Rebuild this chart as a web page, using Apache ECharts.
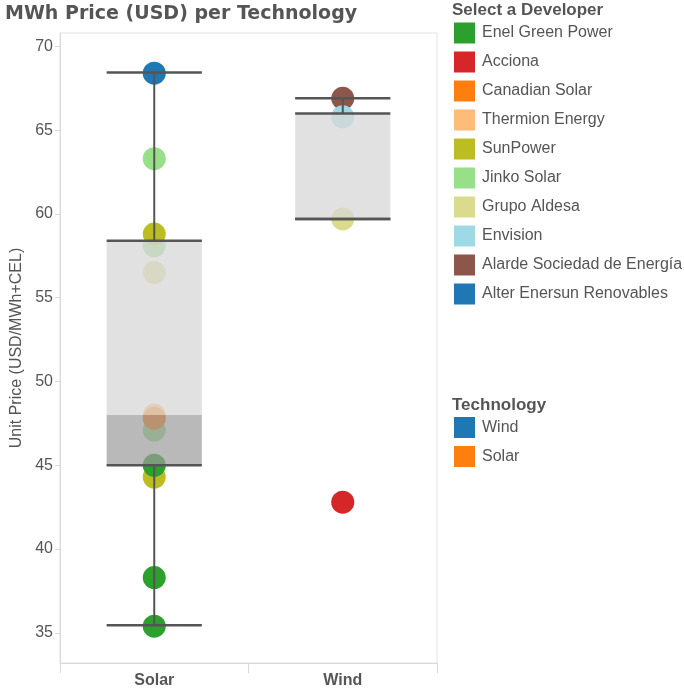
<!DOCTYPE html>
<html>
<head>
<meta charset="utf-8">
<script src="https://cdn.jsdelivr.net/npm/echarts@6/dist/echarts.min.js"></script>
<style>
  html, body { margin: 0; padding: 0; background: #fff; }
  #chart { width: 684px; height: 692px; }
</style>
</head>
<body>
<div id="chart"></div>
<script>
// ---- data ----
const categories = ['Solar', 'Wind'];
const developers = ['Enel Green Power', 'Acciona', 'Canadian Solar', 'Thermion Energy', 'SunPower',
  'Jinko Solar', 'Grupo Aldesa', 'Envision', 'Alarde Sociedad de Energía', 'Alter Enersun Renovables'];
const technologies = ['Wind', 'Solar'];
const yTicks = [35, 40, 45, 50, 55, 60, 65, 70];

// individual contracts: technology, developer, unit price
const pointTech = ['Solar', 'Solar', 'Solar', 'Solar', 'Solar', 'Solar', 'Solar', 'Solar', 'Solar', 'Solar', 'Solar', 'Solar',
  'Wind', 'Wind', 'Wind', 'Wind'];
const pointDev = ['Alter Enersun Renovables', 'Jinko Solar', 'SunPower', 'Jinko Solar', 'Grupo Aldesa', 'Thermion Energy',
  'Canadian Solar', 'Jinko Solar', 'Enel Green Power', 'SunPower', 'Enel Green Power', 'Enel Green Power',
  'Alarde Sociedad de Energía', 'Envision', 'Grupo Aldesa', 'Acciona'];
const pointValue = [68.4, 63.3, 58.8, 58.1, 56.5, 48.0, 47.8, 47.1, 45.0, 44.3, 38.3, 35.4,
  66.9, 65.8, 59.7, 42.8];

// box plot statistics per technology: [lower whisker, Q1, median, Q3, upper whisker]
const solarBox = [35.45, 45.0, 48.0, 58.4, 68.45];
const windBox = [59.7, 59.7, 59.7, 66.0, 66.9];

// ---- styles ----
const devColors = {
  'Enel Green Power': '#2ca02c', 'Acciona': '#d62728', 'Canadian Solar': '#ff7f0e',
  'Thermion Energy': '#ffbb78', 'SunPower': '#bcbd22', 'Jinko Solar': '#98df8a',
  'Grupo Aldesa': '#dbdb8d', 'Envision': '#9edae5', 'Alarde Sociedad de Energía': '#8c564b',
  'Alter Enersun Renovables': '#1f77b4'
};
const techColors = { 'Wind': '#1f77b4', 'Solar': '#ff7f0e' };
// stacking order of the marks (bottom to top)
const drawOrder = ['Acciona', 'Alter Enersun Renovables', 'Grupo Aldesa', 'Thermion Energy', 'Jinko Solar',
  'SunPower', 'Enel Green Power', 'Canadian Solar', 'Alarde Sociedad de Energía', 'Envision'];

const TXT = '#555555';
const FONT = '"Liberation Sans", Arial, sans-serif';

const devSeries = developers.map(function (d) {
  const data = [];
  for (let i = 0; i < pointValue.length; i++) {
    if (pointDev[i] === d) data.push([pointTech[i], pointValue[i]]);
  }
  return {
    name: d, type: 'scatter', data: data, symbol: 'circle', symbolSize: 23,
    z: 2 + drawOrder.indexOf(d),
    itemStyle: { color: devColors[d], opacity: 1 },
    emphasis: { disabled: true }, silent: true
  };
});

const techSeries = technologies.map(function (t) {
  return { name: t, type: 'scatter', data: [], itemStyle: { color: techColors[t], opacity: 1 }, silent: true };
});

const boxes = [solarBox, windBox];
const boxSeries = {
  type: 'custom', z: 30, silent: true,
  data: categories.map(function (c, i) { return [i].concat(boxes[i]); }),
  encode: { x: 0, y: [1, 2, 3, 4, 5] },
  renderItem: function (params, api) {
    const idx = api.value(0);
    const bw = api.size([1, 0])[0] * 0.505;
    const cx = api.coord([idx, 0])[0];
    const yLow = api.coord([idx, api.value(1)])[1];
    const yQ1 = api.coord([idx, api.value(2)])[1];
    const yMed = api.coord([idx, api.value(3)])[1];
    const yQ3 = api.coord([idx, api.value(4)])[1];
    const yHigh = api.coord([idx, api.value(5)])[1];
    const x0 = cx - bw / 2, x1 = cx + bw / 2;
    const ls = { stroke: '#555555', lineWidth: 2.5 };
    const vs = { stroke: '#555555', lineWidth: 2 };
    const children = [
      { type: 'rect', shape: { x: x0, y: yQ3, width: bw, height: yMed - yQ3 }, style: { fill: 'rgba(215,215,215,0.75)' } },
      { type: 'rect', shape: { x: x0, y: yMed, width: bw, height: yQ1 - yMed }, style: { fill: 'rgba(155,155,155,0.7)' } },
      { type: 'line', shape: { x1: cx, y1: yHigh, x2: cx, y2: yQ3 }, style: vs },
      { type: 'line', shape: { x1: cx, y1: yQ1, x2: cx, y2: yLow }, style: vs },
      { type: 'line', shape: { x1: x0, y1: yHigh, x2: x1, y2: yHigh }, style: ls },
      { type: 'line', shape: { x1: x0, y1: yQ3, x2: x1, y2: yQ3 }, style: ls },
      { type: 'line', shape: { x1: x0, y1: yQ1, x2: x1, y2: yQ1 }, style: ls },
      { type: 'line', shape: { x1: x0, y1: yLow, x2: x1, y2: yLow }, style: ls }
    ];
    return { type: 'group', children: children };
  }
};

const chart = echarts.init(document.getElementById('chart'), null, { renderer: 'canvas' });
chart.setOption({
  animation: false,
  backgroundColor: '#ffffff',
  title: [
    { text: 'MWh Price (USD) per Technology', left: 5, top: 5, padding: 0,
      textStyle: { fontFamily: '"DejaVu Sans", sans-serif', fontWeight: 'bold', fontSize: 19, color: TXT } },
    { text: 'Select a Developer', left: 452, top: 2, padding: 0,
      textStyle: { fontFamily: FONT, fontWeight: 'bold', fontSize: 17, color: TXT } },
    { text: 'Technology', left: 452, top: 397, padding: 0,
      textStyle: { fontFamily: FONT, fontWeight: 'bold', fontSize: 17, color: TXT } }
  ],
  legend: [
    { data: developers, orient: 'vertical', left: 454, top: 22.5, padding: 0, icon: 'rect',
      itemWidth: 21, itemHeight: 21, itemGap: 8, selectedMode: false,
      itemStyle: { opacity: 1 },
      textStyle: { fontFamily: FONT, fontSize: 16, color: TXT, padding: [0, 0, 0, 2] } },
    { data: technologies, orient: 'vertical', left: 454, top: 417, padding: 0, icon: 'rect',
      itemWidth: 21, itemHeight: 21, itemGap: 8, selectedMode: false,
      itemStyle: { opacity: 1 },
      textStyle: { fontFamily: FONT, fontSize: 16, color: TXT, padding: [0, 0, 0, 2] } }
  ],
  grid: { left: 60, right: 247, top: 33, bottom: 29, show: true, borderColor: '#e3e3e3', borderWidth: 1,
    containLabel: false, outerBoundsMode: 'none' },
  xAxis: {
    type: 'category', data: categories, boundaryGap: true,
    axisLine: { show: true, lineStyle: { color: '#d9d9d9', width: 1 } },
    axisTick: { show: true, interval: 0, length: 10, lineStyle: { color: '#d9d9d9' } },
    axisLabel: { interval: 0, margin: 10, fontFamily: FONT, fontWeight: 'bold', fontSize: 16, color: TXT },
    splitLine: { show: false }
  },
  yAxis: {
    type: 'value', min: 33.2, max: 70.8,
    name: 'Unit Price (USD/MWh+CEL)', nameLocation: 'middle', nameGap: 33, nameRotate: 90,
    nameTextStyle: { fontFamily: FONT, fontSize: 16, color: TXT },
    axisLine: { show: true, lineStyle: { color: '#d9d9d9', width: 1 } },
    axisTick: { show: true, length: 5, customValues: yTicks, lineStyle: { color: '#d9d9d9' } },
    axisLabel: { customValues: yTicks, margin: 7, fontFamily: FONT, fontSize: 16, color: TXT },
    splitLine: { show: false }
  },
  series: devSeries.concat(techSeries).concat([boxSeries])
});
</script>
</body>
</html>
